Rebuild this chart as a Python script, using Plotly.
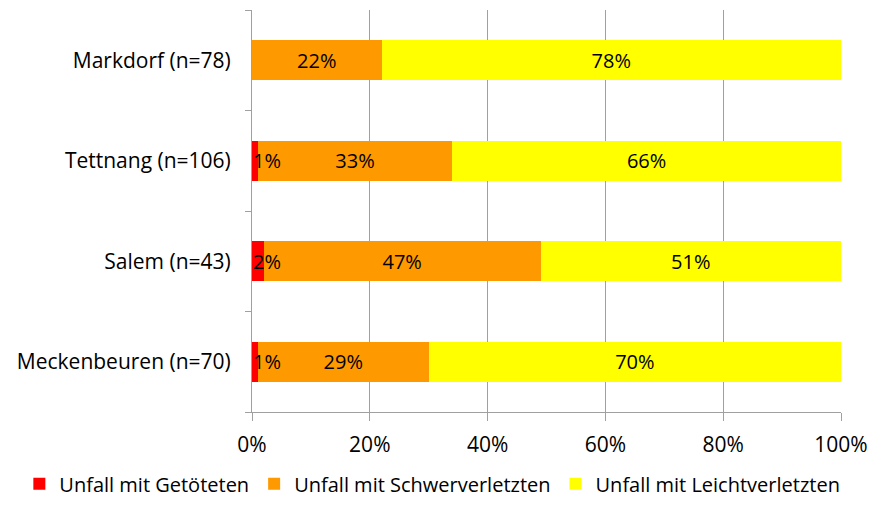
import plotly.graph_objects as go

# Unfallschwere je Gemeinde (Anteile in %)
categories = ["Meckenbeuren (n=70)", "Salem (n=43)", "Tettnang (n=106)", "Markdorf (n=78)"]
getoetete = [1, 2, 1, 0]
schwerverletzte = [29, 47, 33, 22]
leichtverletzte = [70, 51, 66, 78]

series = [
    ("Unfall mit Getöteten", getoetete, "#FF0000"),
    ("Unfall mit Schwerverletzten", schwerverletzte, "#FF9900"),
    ("Unfall mit Leichtverletzten", leichtverletzte, "#FFFF00"),
]

FONT = "Open Sans"
SIZE = 20

fig = go.Figure()
for i, (name, vals, color) in enumerate(series):
    small = i == 0  # narrow segments get their labels as annotations
    fig.add_trace(go.Bar(
        name=name,
        y=categories,
        x=vals,
        orientation="h",
        marker=dict(color=color, line=dict(width=0)),
        text=None if small else [f"{v}%" if v > 0 else "" for v in vals],
        textposition="none" if small else "inside",
        insidetextanchor="middle",
        constraintext="none",
        textfont=dict(family=FONT, size=SIZE, color="black"),
        width=0.4,
    ))

# labels of the narrow red segments, starting at the bar base
for cat, v in zip(categories, getoetete):
    if v > 0:
        fig.add_annotation(
            x=0, y=cat, xref="x", yref="y",
            text=f"{v}%", showarrow=False,
            xanchor="left", xshift=-1,
            font=dict(family=FONT, size=SIZE, color="black"),
        )

fig.update_layout(
    barmode="stack",
    width=878,
    height=515,
    margin=dict(l=252, r=37, t=10, b=103),
    paper_bgcolor="white",
    plot_bgcolor="white",
    font=dict(family=FONT, size=SIZE, color="black"),
    showlegend=True,
    legend=dict(
        orientation="h",
        x=-0.395, xanchor="left",
        y=-0.13, yanchor="top",
        font=dict(family=FONT, size=20),
        itemwidth=30,
        traceorder="normal",
        tracegroupgap=0,
    ),
    xaxis=dict(
        range=[0, 100],
        tickvals=[0, 20, 40, 60, 80, 100],
        ticktext=["0%", "20%", "40%", "60%", "80%", "100%"],
        showgrid=True,
        gridcolor="#A0A0A0",
        gridwidth=1,
        zeroline=False,
        showline=True,
        linecolor="#A0A0A0",
        ticks="outside",
        ticklen=8,
        tickcolor="#A0A0A0",
        tickfont=dict(family=FONT, size=21),
        ticklabelstandoff=6,
    ),
    yaxis=dict(
        showline=True,
        linecolor="#A0A0A0",
        ticks="outside",
        tickson="boundaries",
        ticklen=6,
        tickcolor="#A0A0A0",
        showgrid=False,
        tickfont=dict(family=FONT, size=21),
        ticklabelstandoff=16,
    ),
)

fig.write_html("out.html")
